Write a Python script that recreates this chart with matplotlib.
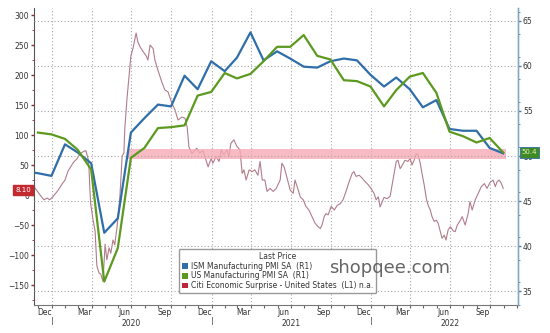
import matplotlib
matplotlib.use('Agg')
import matplotlib.pyplot as plt
import matplotlib.dates as mdates
import matplotlib.transforms as mtransforms
from matplotlib.patches import Patch
import pandas as pd

# monthly PMI readings (plotted at month end)
ism_start = '2019-10-31'
ism_pmi = [48.3, 48.1, 47.8,
           51.3, 50.4, 49.2, 41.5, 43.1, 52.6, 54.2, 55.7, 55.5, 58.9, 57.4, 60.5,
           59.4, 60.9, 63.7, 60.6, 61.6, 60.8, 59.9, 59.8, 60.5, 60.8, 60.6, 59.0,
           57.7, 58.7, 57.4, 55.4, 56.2, 53.0, 52.8, 52.8, 50.9, 50.3]
us_start = '2019-11-30'
us_pmi = [52.6, 52.4,
          51.9, 50.7, 48.5, 36.1, 39.8, 49.8, 50.9, 53.1, 53.2, 53.4, 56.7, 57.1,
          59.2, 58.6, 59.1, 60.5, 62.1, 62.1, 63.4, 61.1, 60.7, 58.4, 58.3, 57.7,
          55.5, 57.3, 58.8, 59.2, 57.0, 52.7, 52.2, 51.5, 52.0, 50.4]

# Citi economic surprise index
citi_dates = ['2019-11-23', '2019-11-30', '2019-12-07', '2019-12-14', '2019-12-21', '2019-12-27',
              '2020-01-03', '2020-01-10', '2020-01-17', '2020-01-24', '2020-01-31', '2020-02-07',
              '2020-02-14', '2020-02-20', '2020-02-27', '2020-03-05', '2020-03-12', '2020-03-19',
              '2020-03-24', '2020-03-26', '2020-03-28', '2020-03-30', '2020-04-04', '2020-04-09',
              '2020-04-13', '2020-04-18', '2020-04-22', '2020-04-27', '2020-05-02', '2020-05-06',
              '2020-05-11', '2020-05-15', '2020-05-20', '2020-05-24', '2020-05-29', '2020-06-03',
              '2020-06-05', '2020-06-10', '2020-06-14', '2020-06-16', '2020-06-21', '2020-06-26',
              '2020-06-30', '2020-07-05', '2020-07-12', '2020-07-16', '2020-07-21', '2020-07-28',
              '2020-08-04', '2020-08-08', '2020-08-13', '2020-08-20', '2020-08-24', '2020-08-31',
              '2020-09-09', '2020-09-16', '2020-09-23', '2020-10-02', '2020-10-09', '2020-10-16',
              '2020-10-25', '2020-11-01', '2020-11-06', '2020-11-10', '2020-11-17', '2020-11-24',
              '2020-11-28', '2020-12-05', '2020-12-12', '2020-12-19', '2020-12-24', '2020-12-31',
              '2021-01-04', '2021-01-11', '2021-01-18', '2021-01-23', '2021-01-29', '2021-02-05',
              '2021-02-10', '2021-02-14', '2021-02-21', '2021-02-28', '2021-03-07', '2021-03-12',
              '2021-03-16', '2021-03-21', '2021-03-28', '2021-04-04', '2021-04-10', '2021-04-17',
              '2021-04-22', '2021-04-27', '2021-05-03', '2021-05-08', '2021-05-15', '2021-05-22',
              '2021-05-29', '2021-06-07', '2021-06-11', '2021-06-16', '2021-06-23', '2021-06-30',
              '2021-07-07', '2021-07-11', '2021-07-16', '2021-07-23', '2021-07-30', '2021-08-05',
              '2021-08-12', '2021-08-19', '2021-08-26', '2021-09-02', '2021-09-07', '2021-09-11',
              '2021-09-16', '2021-09-20', '2021-09-25', '2021-10-02', '2021-10-09', '2021-10-16',
              '2021-10-22', '2021-10-29', '2021-11-05', '2021-11-12', '2021-11-19', '2021-11-23',
              '2021-11-28', '2021-12-05', '2021-12-12', '2021-12-19', '2021-12-26', '2022-01-01',
              '2022-01-08', '2022-01-13', '2022-01-18', '2022-01-22', '2022-01-27', '2022-01-31',
              '2022-02-07', '2022-02-14', '2022-02-19', '2022-02-23', '2022-02-28', '2022-03-04',
              '2022-03-09', '2022-03-14', '2022-03-20', '2022-03-27', '2022-04-01', '2022-04-05',
              '2022-04-10', '2022-04-15', '2022-04-19', '2022-04-24', '2022-04-28', '2022-05-03',
              '2022-05-08', '2022-05-12', '2022-05-17', '2022-05-21', '2022-05-26', '2022-05-31',
              '2022-06-04', '2022-06-09', '2022-06-13', '2022-06-18', '2022-06-22', '2022-06-27',
              '2022-07-02', '2022-07-09', '2022-07-13', '2022-07-18', '2022-07-25', '2022-07-29',
              '2022-08-05', '2022-08-12', '2022-08-16', '2022-08-21', '2022-08-28', '2022-09-04',
              '2022-09-11', '2022-09-18', '2022-09-24', '2022-10-01', '2022-10-08', '2022-10-13',
              '2022-10-17', '2022-10-22', '2022-10-27', '2022-10-31']
citi_vals = [12, 5, -2, -8, -5, -8,
             -3, 3, 10, 18, 25, 40,
             48, 55, 60, 68, 72, 74,
             60, 45, 10, -15, -40, -60,
             -118, -130, -132, -144, -82, -108,
             -88, -97, -75, -83, -55, -20,
             0, 65, 70, 110, 160, 200,
             232, 245, 270, 255, 247, 239,
             232, 225, 250, 244, 225, 208,
             188, 175, 172, 153, 142, 125,
             130, 128, 113, 80, 69, 75,
             78, 70, 74, 58, 47, 61,
             53, 64, 56, 75, 67, 75,
             64, 86, 92, 81, 75, 36,
             42, 25, 42, 39, 42, 33,
             56, 25, 25, 6, 11, 6,
             11, 25, 53, 47, 28, 8,
             3, 25, 14, -3, -8, -19,
             -25, -36, -47, -53, -56, -50,
             -36, -31, -33, -19, -25, -17,
             -15, -8, 6, 22, 36, 39,
             31, 33, 28, 22, 17, 11,
             3, -8, -3, -20, -11, -4,
             -6, -2, 19, 36, 56, 58,
             44, 50, 58, 56, 61, 50,
             58, 69, 67, 53, 36, 17,
             -6, -17, -25, -36, -44, -42,
             -47, -61, -72, -67, -75, -58,
             -53, -60, -61, -50, -42, -36,
             -50, -30, -11, -25, -8, 3,
             14, 19, 11, 21, 25, 14,
             22, 25, 19, 11]

band_dates = ['2020-06-23', '2022-11-06']
band_lo = 49.7
band_hi = 50.8

left_ticks = [-150, -100, -50, 0, 50, 100, 150, 200, 250, 300]
right_ticks = [35, 40, 45, 50, 55, 60, 65]
years = [2020, 2021, 2022]

legend_labels = ['ISM Manufacturing PMI SA  (R1)',
                 'US Manufacturing PMI SA  (R1)',
                 'Citi Economic Surprise - United States  (L1) n.a.']

blue = '#2f6ea8'
green = '#5b9a1f'
citi_col = '#b07c8a'
txt = '#333333'

fig = plt.figure(figsize=(5.5, 3.33), dpi=100)
ax = fig.add_axes([34 / 550, 1 - 305 / 333, 484 / 550, 297 / 333])
ax2 = ax.twinx()

ism_x = pd.date_range(ism_start, periods=len(ism_pmi), freq='ME')
us_x = pd.date_range(us_start, periods=len(us_pmi), freq='ME')

ax.plot(pd.to_datetime(citi_dates), citi_vals, color=citi_col, lw=0.8)
ax2.fill_between(pd.to_datetime(band_dates), band_lo, band_hi, color='#f7aab4',
                 alpha=0.8, lw=0, zorder=1)
ax2.plot(ism_x, ism_pmi, color=blue, lw=1.6, zorder=3)
ax2.plot(us_x, us_pmi, color=green, lw=1.6, zorder=4)

ax.set_xlim(pd.Timestamp('2019-11-21'), pd.Timestamp('2022-12-04'))
ax.set_ylim(-183.3, 311.7)
ax2.set_ylim(33.6, 66.4)

# grid: horizontal from right axis, vertical at quarter starts
ax2.set_yticks(right_ticks)
ax2.yaxis.grid(True, linestyle=(0, (1, 2)), color='#a8a8a8', lw=0.8)
for d in pd.date_range('2020-01-01', '2022-10-01', freq='QS'):
    ax.axvline(d, linestyle=(0, (1, 2)), color='#a8a8a8', lw=0.8, zorder=0)

ax.set_yticks(left_ticks)
ax.set_yticks(range(-175, 311, 25), minor=True)
ax.tick_params(axis='y', labelsize=5.5, labelcolor=txt, length=2.5, width=1.0,
               color='#8c2c2c', pad=1)
ax.tick_params(axis='y', which='minor', length=1.5, color='#8c2c2c')
ax2.set_yticks([x / 2 for x in range(67, 133, 5)], minor=True)
ax2.tick_params(axis='y', labelsize=5.5, labelcolor=txt, length=2.5, width=1.0,
                color='#4a7ea3', pad=1)
ax2.tick_params(axis='y', which='minor', length=1.5, color='#4a7ea3')

ax.xaxis.set_major_locator(mdates.MonthLocator())
ax.xaxis.set_major_formatter(plt.NullFormatter())
ax.xaxis.set_minor_locator(mdates.MonthLocator(bymonth=[3, 6, 9, 12], bymonthday=15))
ax.xaxis.set_minor_formatter(mdates.DateFormatter('%b'))
ax.tick_params(axis='x', which='major', length=2.5, color='#666666')
ax.tick_params(axis='x', which='minor', length=0, labelsize=5.5, labelcolor=txt, pad=2)

for a in (ax, ax2):
    a.spines['top'].set_visible(False)
ax.spines['left'].set_color('#555555')
ax.spines['bottom'].set_color('#777777')
ax2.spines['left'].set_visible(False)
ax2.spines['bottom'].set_visible(False)
ax2.spines['right'].set_color('#7fa6c2')
ax2.spines['right'].set_linewidth(1.0)

# year labels and separators
xt = ax.get_xaxis_transform()
for yr in years:
    ax.plot([pd.Timestamp(f'{yr}-01-01')] * 2, [-0.042, -0.064], transform=xt,
            color='#777777', lw=0.7, clip_on=False)
    ax.text(pd.Timestamp(f'{yr}-07-01'), -0.061, str(yr), transform=xt, ha='center',
            va='center', fontsize=5.5, color=txt)

# last value tags
lt = mtransforms.blended_transform_factory(ax.transAxes, ax.transData)
ax.text(-0.006, citi_vals[-1] - 2.9, '8.10', transform=lt, ha='right', va='center',
        fontsize=5, color='white', clip_on=False, zorder=5,
        bbox=dict(boxstyle='square,pad=0.3', fc='#c22a30', ec='#c22a30'))
rt = mtransforms.blended_transform_factory(ax2.transAxes, ax2.transData)
ax2.text(1.008, us_pmi[-1], '50.4', transform=rt, ha='left', va='center',
         fontsize=5, color='#e2f3b8', clip_on=False, zorder=5,
         bbox=dict(boxstyle='square,pad=0.3', fc='#3f8a25', ec='#2f6ea8', lw=0.6))

handles = [Patch(facecolor=blue), Patch(facecolor=green), Patch(facecolor='#c0243a')]
leg = ax2.legend(handles, legend_labels, title='Last Price', loc='upper left',
                 bbox_to_anchor=(175 / 550, 1 - 245 / 333), bbox_transform=fig.transFigure,
                 fontsize=5.5, title_fontsize=5.5, frameon=True, fancybox=True,
                 edgecolor='#999999', framealpha=1, handlelength=0.8, handleheight=0.8,
                 handletextpad=0.4, borderpad=0.4, labelspacing=0.1)
for t in leg.get_texts():
    t.set_color(txt)
leg.get_title().set_color(txt)
leg.set_zorder(10)

fig.text(390 / 550, 1 - 268 / 333, 'shopqee.com', ha='center', va='center',
         fontsize=13, color='#555555', alpha=0.9, zorder=20)

fig.savefig('out.png', dpi=100)
